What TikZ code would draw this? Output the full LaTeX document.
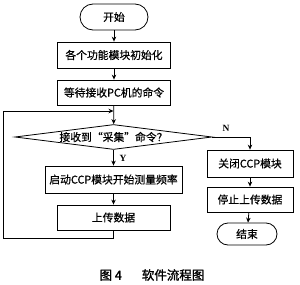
\documentclass[tikz,border=0pt]{standalone}
\usepackage{fontspec}
\setmainfont{Liberation Serif}
\newfontfamily\cjk[FakeBold=0.6]{Noto Sans CJK SC}
\newfontfamily\capfont[FakeBold=1.5]{Noto Sans CJK SC}
\usetikzlibrary{shapes.geometric,arrows.meta}
\begin{document}
\begin{tikzpicture}[x=1pt,y=-1pt,
  every node/.style={font=\cjk\fontsize{10.8}{12}\selectfont},
  box/.style={draw,line width=0.8pt,inner sep=0pt},
  term/.style={box,rounded corners=11pt},
  dec/.style={draw,line width=0.8pt,diamond,aspect=8,inner sep=0pt,minimum width=197pt,minimum height=25pt},
  lbl/.style={font=\bfseries\fontsize{9.5}{10}\selectfont},
  line/.style={line width=0.8pt},
  arr/.style={line,-{Stealth[length=5pt,width=4.5pt]}}]
\useasboundingbox (0,0) rectangle (300,284);
\node[term,minimum width=68pt,minimum height=26pt,rounded corners=13pt] (start) at (114,17) {开始};
\node[box,minimum width=113pt,minimum height=26pt] (init) at (114,55) {各个功能模块初始化};
\node[box,minimum width=113pt,minimum height=25pt] (wait) at (114,92.5) {等待接收PC机的命令};
\node[dec] (cond) at (113.5,137) {接收到“采集”命令？};
\node[box,minimum width=137pt,minimum height=27pt] (meas) at (113.5,179.5) {启动CCP模块开始测量频率};
\node[box,minimum width=113pt,minimum height=25pt] (up) at (113.5,217.5) {上传数据};
\node[box,minimum width=86pt,minimum height=27pt] (close) at (250,163.5) {关闭CCP模块};
\node[box,minimum width=86pt,minimum height=25pt] (stop) at (250,199.5) {停止上传数据};
\node[term,minimum width=60pt,minimum height=22pt] (end) at (247,234) {结束};
\node[lbl] (y) at (123,158) {Y};
\node[lbl] (n) at (226,128) {N};
\node[font=\capfont\fontsize{12.5}{14}\selectfont] (cap) at (152,275) {图\ 4\hspace{1.6em}软件流程图};
\coordinate (lb) at (3,238);
\coordinate (lt) at (3,111);
\coordinate (join) at (113.5,111);
\draw[arr] (start) -- (init);
\draw[arr] (init) -- (wait);
\draw[arr] (wait) -- (cond);
\draw[arr] (cond) -- (meas);
\draw[arr] (meas) -- (up);
\draw[line] (up.south) |- (lb) -- (lt);
\draw[arr] (lt) -- (join);
\draw[arr] (cond.east) -| (close.north);
\draw[arr] (close) -- (stop);
\draw[arr] (stop) -- (end);
\end{tikzpicture}
\end{document}
